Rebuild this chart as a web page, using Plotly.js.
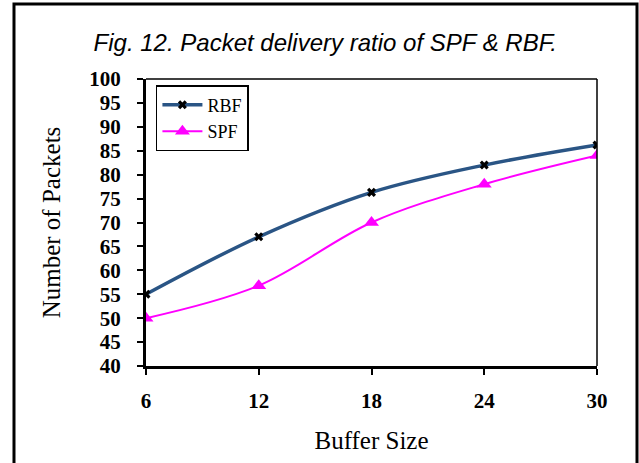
<!DOCTYPE html>
<html>
<head>
<meta charset="utf-8">
<script src="https://cdn.plot.ly/plotly-3.0.1.min.js"></script>
<style>html,body{margin:0;padding:0;background:#fff;}#chart{width:639px;height:463px;}</style>
</head>
<body>
<div id="chart"></div>
<script>
const bufferSizes = [6, 12, 18, 24, 30];
const rbfValues = [55, 67, 76.3, 82, 86.2];
const spfValues = [50, 56.8, 70, 78, 84];
const yTickValues = [40, 45, 50, 55, 60, 65, 70, 75, 80, 85, 90, 95, 100];

const traces = [
  {
    x: bufferSizes, y: rbfValues, name: 'RBF', type: 'scatter', mode: 'lines+markers',
    line: {color: '#2a5585', width: 3.5, shape: 'spline', smoothing: 1},
    marker: {symbol: 'x', size: 8, color: '#000000', line: {width: 0}}
  },
  {
    x: bufferSizes, y: spfValues, name: 'SPF', type: 'scatter', mode: 'lines+markers',
    line: {color: '#ff00ff', width: 2, shape: 'spline', smoothing: 1},
    marker: {symbol: 'triangle-up', size: 13, color: '#ff00ff', line: {width: 0}}
  }
];

const serif = 'Liberation Serif, Times New Roman, serif';

const layout = {
  width: 639, height: 463,
  margin: {l: 146, r: 42, t: 79, b: 97, pad: 0},
  paper_bgcolor: '#ffffff', plot_bgcolor: '#ffffff',
  showlegend: true,
  title: {
    text: 'Fig. 12. Packet delivery ratio of SPF &amp; RBF.',
    font: {family: 'Liberation Sans, Arial, sans-serif', size: 24, color: '#000', style: 'italic'},
    x: 0.509, xanchor: 'center', xref: 'container',
    y: 0.909, yanchor: 'middle', yref: 'container'
  },
  xaxis: {
    range: [6, 30], tickvals: bufferSizes, ticktext: bufferSizes.map(String),
    showgrid: false, zeroline: false, showline: true, linecolor: '#000', linewidth: 3,
    ticks: 'outside', ticklen: 6, tickwidth: 2, tickcolor: '#000', ticklabelstandoff: 8,
    tickfont: {family: serif, size: 21, color: '#000', weight: 'bold'},
    title: {text: 'Buffer Size', font: {family: serif, size: 25, color: '#000'}, standoff: 20}
  },
  yaxis: {
    range: [40, 100], tickvals: yTickValues, ticktext: yTickValues.map(String),
    showgrid: false, zeroline: false, showline: true, linecolor: '#000', linewidth: 3,
    ticks: 'outside', ticklen: 6, tickwidth: 2, tickcolor: '#000', ticklabelstandoff: 12,
    tickfont: {family: serif, size: 21, color: '#000', weight: 'bold'},
    title: {text: 'Number of Packets', font: {family: serif, size: 25, color: '#000'}, standoff: 22}
  },
  legend: {
    x: 0.022, y: 0.979, xanchor: 'left', yanchor: 'top',
    bgcolor: '#ffffff', bordercolor: '#000', borderwidth: 1.5,
    font: {family: serif, size: 18, color: '#000'},
    tracegroupgap: 0, itemwidth: 40
  },
  shapes: [
    {type: 'line', xref: 'paper', yref: 'paper', x0: 0, x1: 1, y0: 1, y1: 1, line: {color: '#000', width: 1.5}},
    {type: 'line', xref: 'paper', yref: 'paper', x0: 1, x1: 1, y0: 0, y1: 1, line: {color: '#000', width: 1.5}},
    {type: 'rect', xref: 'paper', yref: 'paper', x0: -0.2927, x1: 1.0887, y0: -0.40, y1: 1.2613, line: {color: '#000', width: 3}, layer: 'below'}
  ]
};

Plotly.newPlot('chart', traces, layout, {displayModeBar: false, staticPlot: true});
</script>
</body>
</html>
